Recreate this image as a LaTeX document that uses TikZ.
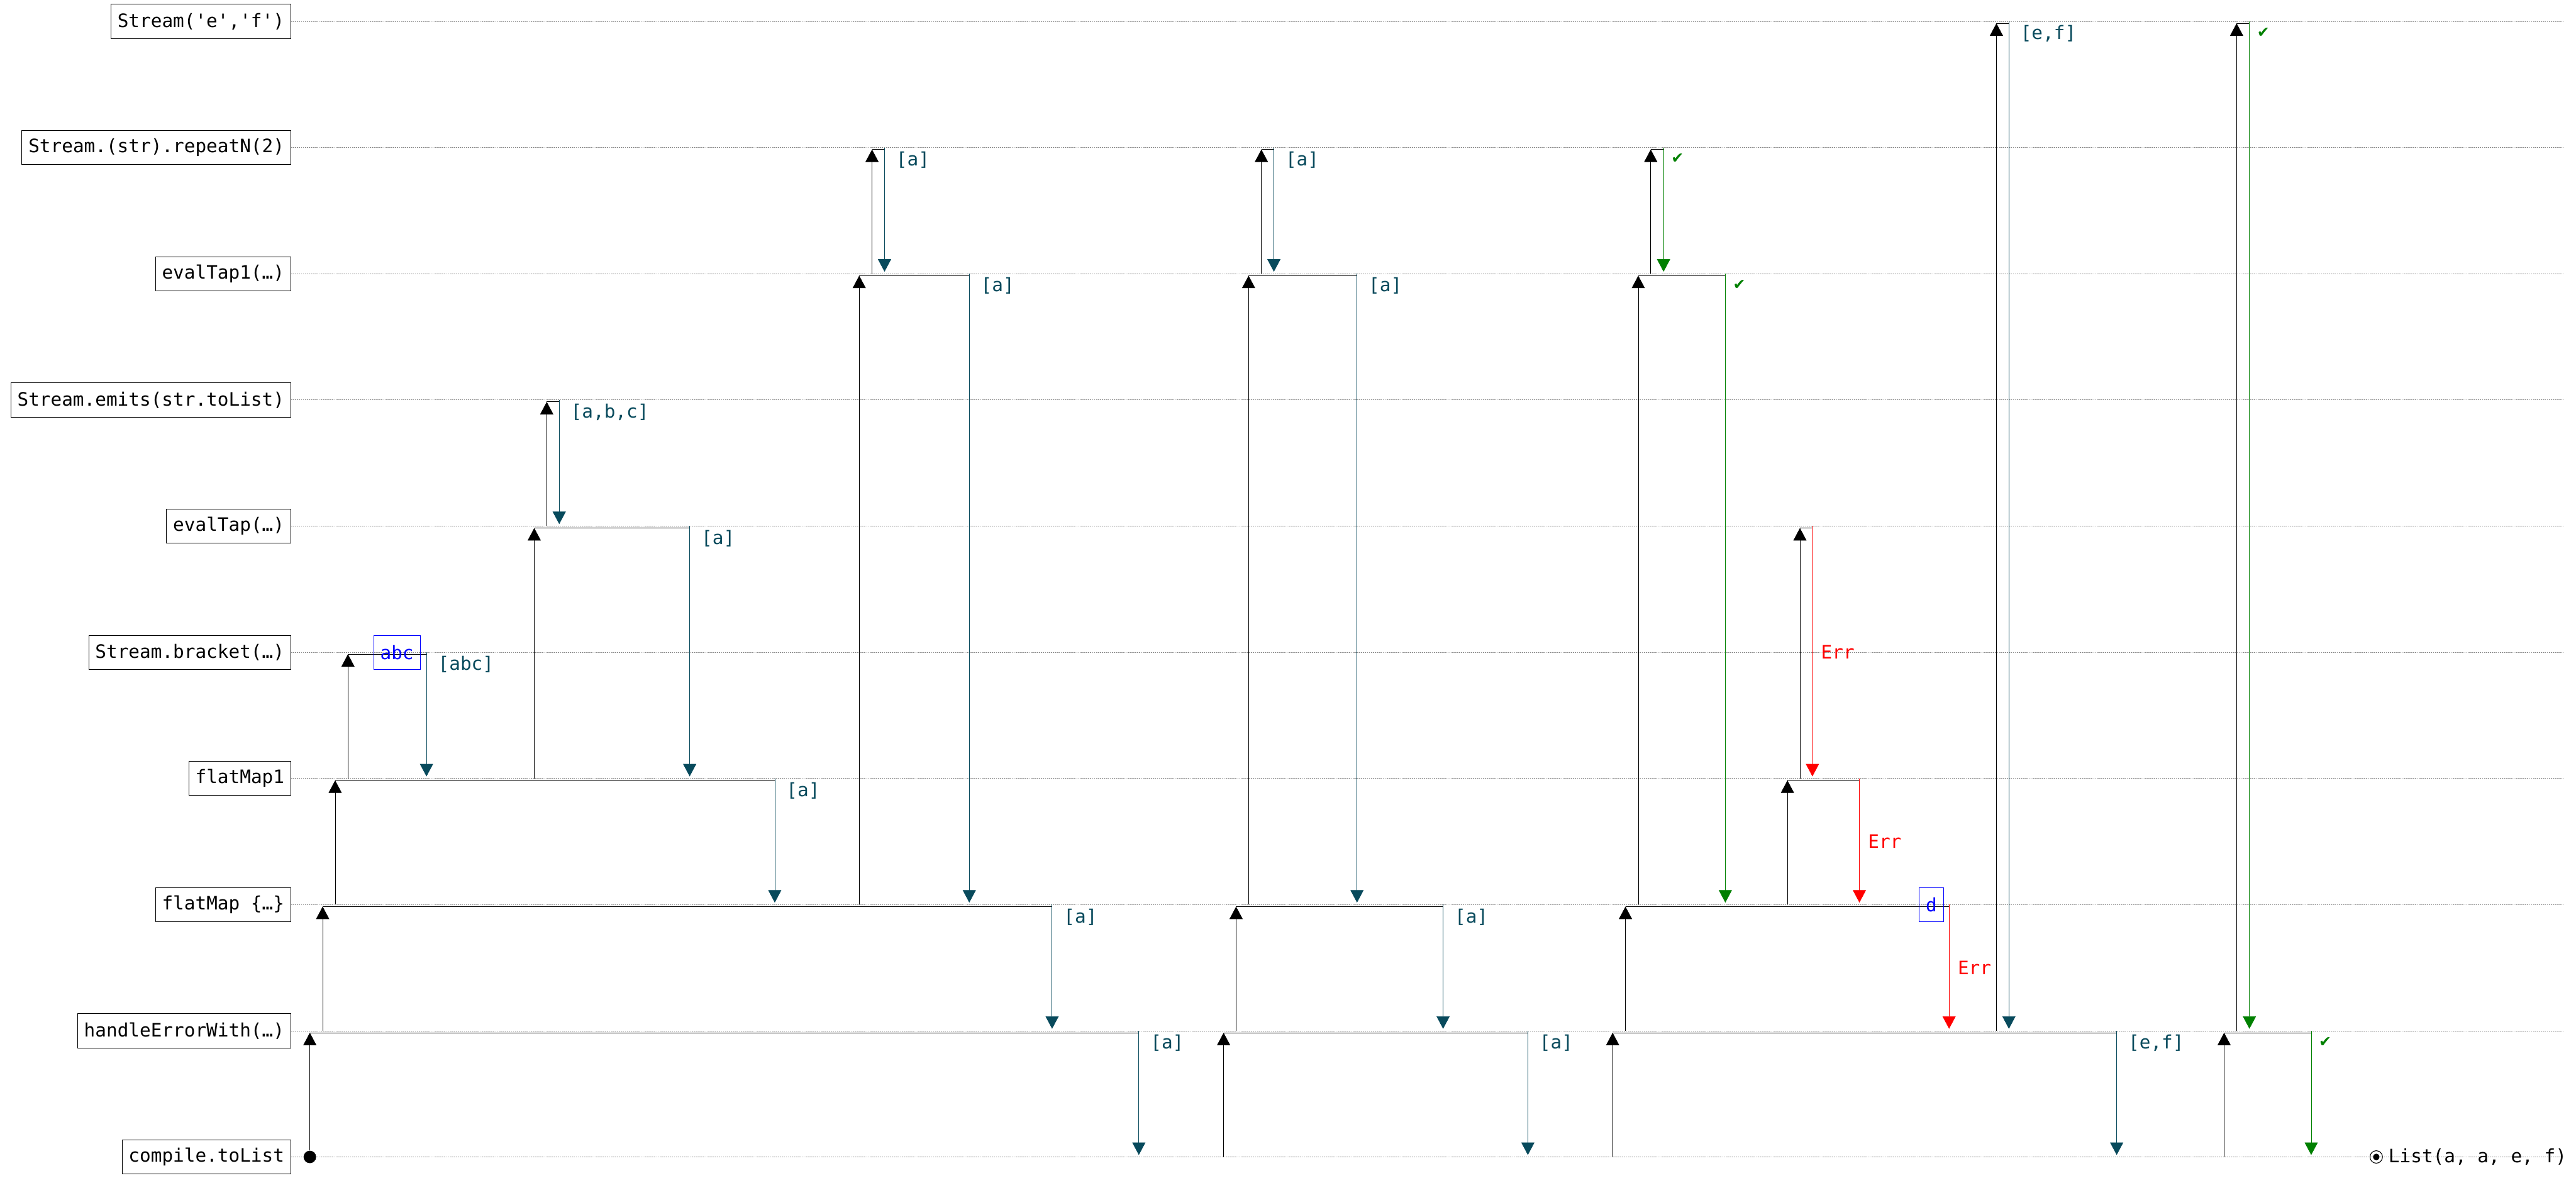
\documentclass[tikz,border=0pt]{standalone}
\usepackage{fontspec}
\setmonofont{DejaVu Sans Mono}
\newfontfamily\checkfont{DejaVu Sans}
\usetikzlibrary{arrows.meta,positioning}

\definecolor{valteal}{HTML}{084A5C}
\definecolor{okgreen}{HTML}{008000}
\definecolor{errred}{HTML}{FF0000}
\definecolor{emitblue}{HTML}{0000FF}

\begin{document}
\begin{tikzpicture}[
      txt/.style={font=\ttfamily\fontsize{8}{9.6}\selectfont},
      op/.style={txt, draw, line width=0.2pt, anchor=east, minimum height=0.52cm, inner xsep=0.1cm},
      lane/.style={draw=black!45, line width=0.2pt, dash pattern=on 0.5pt off 0.35pt},
      call/.style={-{Triangle[width=0.2cm,length=0.19cm]}, line width=0.22pt},
      span/.style={line width=0.28pt},
      back/.style={-{Triangle[width=0.2cm,length=0.19cm]}, line width=0.22pt},
      val/.style={txt, anchor=north west, inner sep=0pt, xshift=0.17cm, yshift=-0.055cm, text=valteal},
      ok/.style={anchor=north west, inner sep=0pt, xshift=0.11cm, yshift=-0.09cm, text=okgreen, font=\checkfont\fontsize{6.5}{7}\selectfont},
      err/.style={txt, anchor=west, inner sep=0pt, xshift=0.125cm, text=errred},
      emit/.style={txt, draw=emitblue, text=emitblue, line width=0.2pt, minimum height=0.52cm, inner xsep=0.1cm},
      dot/.style={circle, fill=black, inner sep=0pt, minimum size=0.19cm}
    ]

    \useasboundingbox (0,0) rectangle (39.2,17.925);

    % ---- lane positions ----
    \def\yef{17.60}
    \def\yrep{15.68}
    \def\yetone{13.76}
    \def\yem{11.84}
    \def\yet{9.92}
    \def\ybr{8.00}
    \def\yfmone{6.08}
    \def\yfm{4.16}
    \def\yhe{2.24}
    \def\ycl{0.32}
    \def\dy{0.03}
    \def\xlab{4.43}
    \def\xend{39.0}

    % ================= operator lanes =================
    \node[op] (ef) at (\xlab,\yef) {Stream('e','f')};
    \node[op] (rep) at (\xlab,\yrep) {Stream.(str).repeatN(2)};
    \node[op] (etone) at (\xlab,\yetone) {evalTap1(…)};
    \node[op] (em) at (\xlab,\yem) {Stream.emits(str.toList)};
    \node[op] (et) at (\xlab,\yet) {evalTap(…)};
    \node[op] (br) at (\xlab,\ybr) {Stream.bracket(…)};
    \node[op] (fmone) at (\xlab,\yfmone) {flatMap1};
    \node[op] (fm) at (\xlab,\yfm) {flatMap \{…\}};
    \node[op] (he) at (\xlab,\yhe) {handleErrorWith(…)};
    \node[op] (cl) at (\xlab,\ycl) {compile.toList};

    \draw[lane] (ef.east) -- (\xend,\yef);
    \draw[lane] (rep.east) -- (\xend,\yrep);
    \draw[lane] (etone.east) -- (\xend,\yetone);
    \draw[lane] (em.east) -- (\xend,\yem);
    \draw[lane] (et.east) -- (\xend,\yet);
    \draw[lane] (br.east) -- (\xend,\ybr);
    \draw[lane] (fmone.east) -- (\xend,\yfmone);
    \draw[lane] (fm.east) -- (\xend,\yfm);
    \draw[lane] (he.east) -- (\xend,\yhe);
    \draw[lane] (cl.east) -- (\xend,\ycl);

    \node[dot] (start) at (4.715,\ycl) {};

    % ================= 1st pull: a =================
    \draw[call] (start) -- (4.715,{\yhe-\dy});
    \draw[span] (4.715,{\yhe-\dy}) -- (17.33,{\yhe-\dy});
    \draw[back, valteal] (17.33,\yhe) -- (17.33,{\ycl+\dy});
    \node[val] (vA) at (17.33,\yhe) {[a]};

    \draw[call] (4.91,\yhe) -- (4.91,{\yfm-\dy});
    \draw[span] (4.91,{\yfm-\dy}) -- (16.01,{\yfm-\dy});
    \draw[back, valteal] (16.01,\yfm) -- (16.01,{\yhe+\dy});
    \node[val] (vB) at (16.01,\yfm) {[a]};

    \draw[call] (5.10,\yfm) -- (5.10,{\yfmone-\dy});
    \draw[span] (5.10,{\yfmone-\dy}) -- (11.79,{\yfmone-\dy});
    \draw[back, valteal] (11.79,\yfmone) -- (11.79,{\yfm+\dy});
    \node[val] (vC) at (11.79,\yfmone) {[a]};

    % bracket acquires the resource
    \draw[call] (5.295,\yfmone) -- (5.295,{\ybr-\dy});
    \draw[span] (5.295,{\ybr-\dy}) -- (6.49,{\ybr-\dy});
    \node[emit] (abc) at (6.04,\ybr) {abc};
    \draw[back, valteal] (6.49,\ybr) -- (6.49,{\yfmone+\dy});
    \node[val] (vD) at (6.49,\ybr) {[abc]};

    \draw[call] (8.13,\yfmone) -- (8.13,{\yet-\dy});
    \draw[span] (8.13,{\yet-\dy}) -- (10.495,{\yet-\dy});
    \draw[back, valteal] (10.495,\yet) -- (10.495,{\yfmone+\dy});
    \node[val] (vE) at (10.495,\yet) {[a]};

    \draw[call] (8.32,\yet) -- (8.32,{\yem-\dy});
    \draw[span] (8.32,{\yem-\dy}) -- (8.51,{\yem-\dy});
    \draw[back, valteal] (8.51,\yem) -- (8.51,{\yet+\dy});
    \node[val] (vF) at (8.51,\yem) {[a,b,c]};

    \draw[call] (13.075,\yfm) -- (13.075,{\yetone-\dy});
    \draw[span] (13.075,{\yetone-\dy}) -- (14.75,{\yetone-\dy});
    \draw[back, valteal] (14.75,\yetone) -- (14.75,{\yfm+\dy});
    \node[val] (vG) at (14.75,\yetone) {[a]};

    \draw[call] (13.27,\yetone) -- (13.27,{\yrep-\dy});
    \draw[span] (13.27,{\yrep-\dy}) -- (13.46,{\yrep-\dy});
    \draw[back, valteal] (13.46,\yrep) -- (13.46,{\yetone+\dy});
    \node[val] (vH) at (13.46,\yrep) {[a]};

    % ================= 2nd pull: a =================
    \draw[call] (18.62,\ycl) -- (18.62,{\yhe-\dy});
    \draw[span] (18.62,{\yhe-\dy}) -- (23.25,{\yhe-\dy});
    \draw[back, valteal] (23.25,\yhe) -- (23.25,{\ycl+\dy});
    \node[val] (vI) at (23.25,\yhe) {[a]};

    \draw[call] (18.81,\yhe) -- (18.81,{\yfm-\dy});
    \draw[span] (18.81,{\yfm-\dy}) -- (21.96,{\yfm-\dy});
    \draw[back, valteal] (21.96,\yfm) -- (21.96,{\yhe+\dy});
    \node[val] (vJ) at (21.96,\yfm) {[a]};

    \draw[call] (19.00,\yfm) -- (19.00,{\yetone-\dy});
    \draw[span] (19.00,{\yetone-\dy}) -- (20.65,{\yetone-\dy});
    \draw[back, valteal] (20.65,\yetone) -- (20.65,{\yfm+\dy});
    \node[val] (vK) at (20.65,\yetone) {[a]};

    \draw[call] (19.195,\yetone) -- (19.195,{\yrep-\dy});
    \draw[span] (19.195,{\yrep-\dy}) -- (19.385,{\yrep-\dy});
    \draw[back, valteal] (19.385,\yrep) -- (19.385,{\yetone+\dy});
    \node[val] (vL) at (19.385,\yrep) {[a]};

    % ================= 3rd pull: error, recovered with e,f =================
    \draw[call] (24.54,\ycl) -- (24.54,{\yhe-\dy});
    \draw[span] (24.54,{\yhe-\dy}) -- (32.21,{\yhe-\dy});
    \draw[back, valteal] (32.21,\yhe) -- (32.21,{\ycl+\dy});
    \node[val] (vM) at (32.21,\yhe) {[e,f]};

    \draw[call] (24.735,\yhe) -- (24.735,{\yfm-\dy});
    \draw[span] (24.735,{\yfm-\dy}) -- (29.66,{\yfm-\dy});
    \node[emit] (d) at (29.39,\yfm) {d};
    \draw[back, errred] (29.66,\yfm) -- (29.66,{\yhe+\dy});
    \node[err] (eN) at (29.66,{(\yfm+\yhe)/2}) {Err};

    \draw[call] (24.93,\yfm) -- (24.93,{\yetone-\dy});
    \draw[span] (24.93,{\yetone-\dy}) -- (26.255,{\yetone-\dy});
    \draw[back, okgreen] (26.255,\yetone) -- (26.255,{\yfm+\dy});
    \node[ok] (kO) at (26.255,\yetone) {✔};

    \draw[call] (25.12,\yetone) -- (25.12,{\yrep-\dy});
    \draw[span] (25.12,{\yrep-\dy}) -- (25.315,{\yrep-\dy});
    \draw[back, okgreen] (25.315,\yrep) -- (25.315,{\yetone+\dy});
    \node[ok] (kP) at (25.315,\yrep) {✔};

    \draw[call] (27.20,\yfm) -- (27.20,{\yfmone-\dy});
    \draw[span] (27.20,{\yfmone-\dy}) -- (28.295,{\yfmone-\dy});
    \draw[back, errred] (28.295,\yfmone) -- (28.295,{\yfm+\dy});
    \node[err] (eQ) at (28.295,{(\yfmone+\yfm)/2}) {Err};

    \draw[call] (27.39,\yfmone) -- (27.39,{\yet-\dy});
    \draw[span] (27.39,{\yet-\dy}) -- (27.58,{\yet-\dy});
    \draw[back, errred] (27.58,\yet) -- (27.58,{\yfmone+\dy});
    \node[err] (eR) at (27.58,{(\yet+\yfmone)/2}) {Err};

    \draw[call] (30.38,\yhe) -- (30.38,{\yef-\dy});
    \draw[span] (30.38,{\yef-\dy}) -- (30.57,{\yef-\dy});
    \draw[back, valteal] (30.57,\yef) -- (30.57,{\yhe+\dy});
    \node[val] (vS) at (30.57,\yef) {[e,f]};

    % ================= 4th pull: done =================
    \draw[call] (33.845,\ycl) -- (33.845,{\yhe-\dy});
    \draw[span] (33.845,{\yhe-\dy}) -- (35.17,{\yhe-\dy});
    \draw[back, okgreen] (35.17,\yhe) -- (35.17,{\ycl+\dy});
    \node[ok] (kT) at (35.17,\yhe) {✔};

    \draw[call] (34.035,\yhe) -- (34.035,{\yef-\dy});
    \draw[span] (34.035,{\yef-\dy}) -- (34.23,{\yef-\dy});
    \draw[back, okgreen] (34.23,\yef) -- (34.23,{\yhe+\dy});
    \node[ok] (kU) at (34.23,\yef) {✔};

    % ---- result ----
    \node[circle, draw, line width=0.3pt, inner sep=0pt, minimum size=0.19cm] (done) at (36.16,\ycl) {};
    \fill (done.center) circle (0.05);
    \node[txt, right=0.08cm of done, inner sep=0pt] (result) {List(a, a, e, f)};

    \end{tikzpicture}
\end{document}
